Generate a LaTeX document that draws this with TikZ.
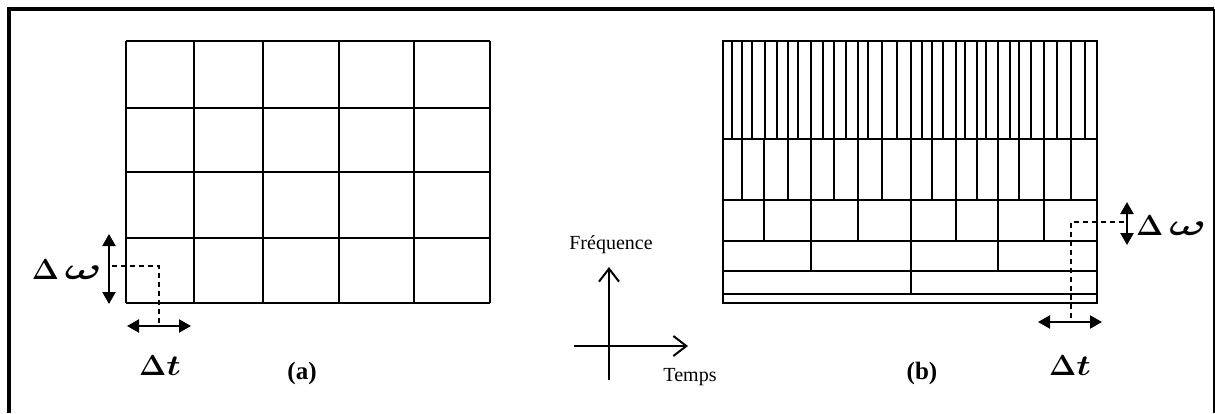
\documentclass[tikz,border=0pt]{standalone}
\usepackage{fontspec}
\setmainfont{Liberation Serif}
\usepackage{graphicx}
\usetikzlibrary{arrows.meta}

\newcommand{\dw}{\scalebox{1.4}{$\Delta\,\scalebox{1.7}[1.05]{$\omega$}$}}
\newcommand{\dt}{\scalebox{1.4}{$\Delta\scalebox{1.2}[1]{$t$}$}}

\begin{document}
\begin{tikzpicture}[x=1pt,y=-1pt,
		gridline/.style={line width=2pt},
		dimarrow/.style={line width=2.2pt,{Triangle[length=12pt,width=13pt]}-{Triangle[length=12pt,width=13pt]}},
		guide/.style={line width=1.2pt,dash pattern=on 5pt off 4pt},
		axis/.style={line width=2pt,-{Straight Barb[length=13pt,width=20pt]}},
		deltalabel/.style={font=\fontsize{20}{24}\selectfont\boldmath,inner sep=0pt},
		axislabel/.style={font=\fontsize{20}{22}\selectfont,inner sep=0pt},
		panellabel/.style={font=\fontsize{25}{28}\selectfont\bfseries,inner sep=0pt}]
		\useasboundingbox (0,0) rectangle (1215,413);
		% 外框
		\draw[line width=4pt] (8.5,413) -- (8.5,8.5) -- (1214,8.5);
		\draw[line width=2pt] (1214,8.5) -- (1214,413);
		
		% (a) 均匀网格
		\foreach \x in {126,194,263,339,414,490}
			\draw[gridline] (\x,41) -- (\x,303);
		\foreach \y in {41,108,172,238,303}
			\draw[gridline] (126,\y) -- (490,\y);
		
		% (b) 小波网格
		\draw[gridline] (723,41) rectangle (1097,303);
		\foreach \y in {139,200,241,271,294}
			\draw[gridline] (723,\y) -- (1097,\y);
		\foreach \x in {731.7,741.7,752.3,765,776.7,788.3,798.3,811,822.7,834.3,845.7,857.7,868.3,882.3,896.7,910.7,921.7,932.3,943.3,956,965,976.7,986,997.7,1010,1019,1031,1044.3,1056.7,1071,1085}
			\draw[gridline] (\x,41) -- (\x,139);
		\foreach \x in {741.7,764.3,788.3,811,834.3,857.7,882.3,910.7,932.3,956,976.7,997.7,1019,1044.3,1071}
			\draw[gridline] (\x,139) -- (\x,200);
		\foreach \x in {764.3,811,857.7,910.7,956,997.7,1044.3}
			\draw[gridline] (\x,200) -- (\x,241);
		\foreach \x in {811,910.7,997.7}
			\draw[gridline] (\x,241) -- (\x,271);
		\draw[gridline] (910.7,271) -- (910.7,294);
		
		% 左侧 Δω, Δt
		\coordinate (wTopA) at (109,234);
		\coordinate (wBotA) at (109,304);
		\coordinate (wMidA) at (112,266);
		\coordinate (cornerA) at (159,266);
		\coordinate (tMidA) at (159,326);
		\coordinate (tLeftA) at (127,326);
		\coordinate (tRightA) at (191,326);
		\draw[dimarrow] (wTopA) -- (wBotA);
		\draw[dimarrow] (tLeftA) -- (tRightA);
		\draw[guide] (wMidA) -- (cornerA) -- (tMidA);
		\node[deltalabel,anchor=east] (dwA) at (102,270) {\dw};
		\node[deltalabel] (dtA) at (160,366) {\dt};
		\node[panellabel] (labA) at (302,373) {(a)};
		
		% 右侧 Δω, Δt
		\coordinate (wTopB) at (1127,202);
		\coordinate (wBotB) at (1127,245);
		\coordinate (wMidB) at (1124,222);
		\coordinate (cornerB) at (1071,222);
		\coordinate (tMidB) at (1071,322);
		\coordinate (tLeftB) at (1038,322);
		\coordinate (tRightB) at (1102,322);
		\draw[dimarrow] (wTopB) -- (wBotB);
		\draw[dimarrow] (tLeftB) -- (tRightB);
		\draw[guide] (wMidB) -- (cornerB) -- (tMidB);
		\node[deltalabel,anchor=west] (dwB) at (1136,226) {\dw};
		\node[deltalabel] (dtB) at (1070,366) {\dt};
		\node[panellabel] (labB) at (922,373) {(b)};
		
		% 时频坐标轴
		\coordinate (fBot) at (609,380);
		\coordinate (fTop) at (609,267);
		\coordinate (tBeg) at (574,346);
		\coordinate (tEnd) at (688,346);
		\draw[axis] (fBot) -- (fTop);
		\draw[axis] (tBeg) -- (tEnd);
		\node[axislabel] (freq) at (611,245) {Fréquence};
		\node[axislabel] (temps) at (690,377) {Temps};
	\end{tikzpicture}
\end{document}
